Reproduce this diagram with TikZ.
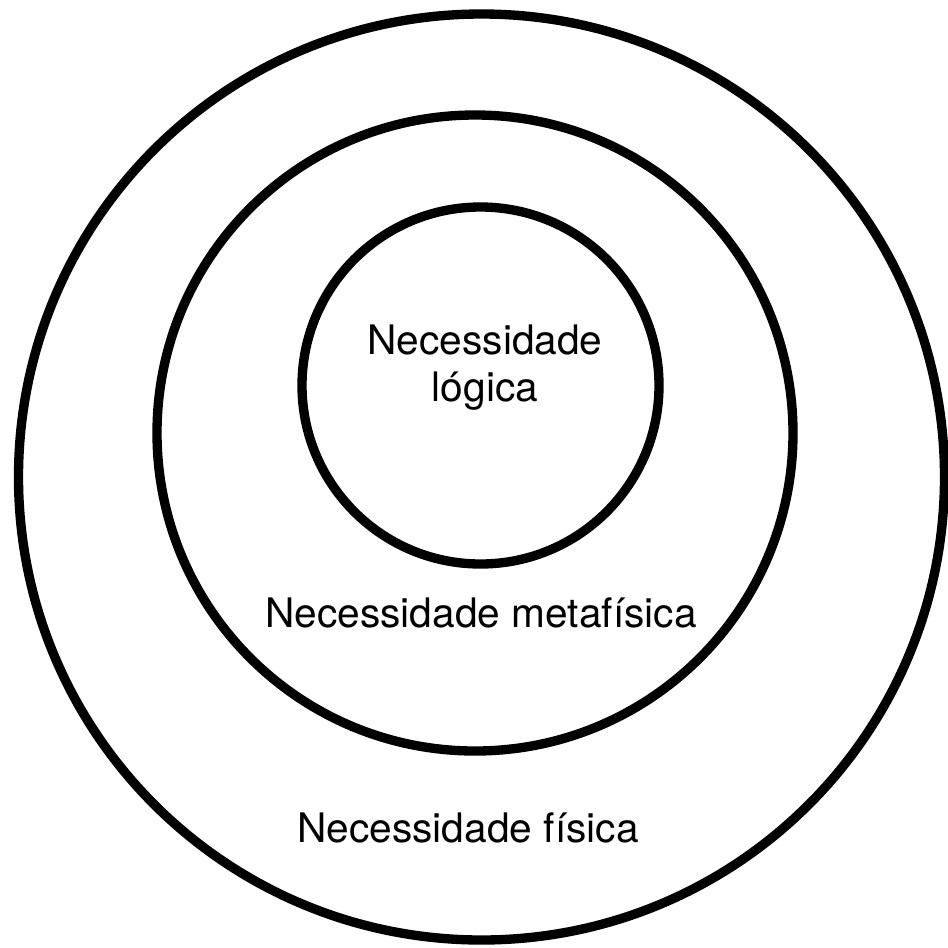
\documentclass[tikz,border=0pt]{standalone}
\usepackage{fontspec}
\setmainfont{TeX Gyre Heros}
\begin{document}
\begin{tikzpicture}[x=0.75pt,y=-0.75pt,
  ring/.style={draw=black, line width=7pt, circle, inner sep=0pt, outer sep=0pt},
  lbl/.style={font=\fontsize{30.5}{35.3}\selectfont, text=black, inner sep=0pt, align=center}]
\useasboundingbox (0,0) rectangle (948,947);
\node[ring, minimum size=694.5pt] (outer) at (481.5,477) {};
\node[ring, minimum size=477pt] (middle) at (475,433) {};
\node[ring, minimum size=267.75pt] (inner) at (480.5,385.5) {};
\node[lbl] (logica) at (485,368) {Necessidade\\lógica};
\node[lbl, anchor=base] (metafisica) at (481,627) {Necessidade metafísica};
\node[lbl, anchor=base] (fisica) at (468,842) {Necessidade física};
\end{tikzpicture}
\end{document}
